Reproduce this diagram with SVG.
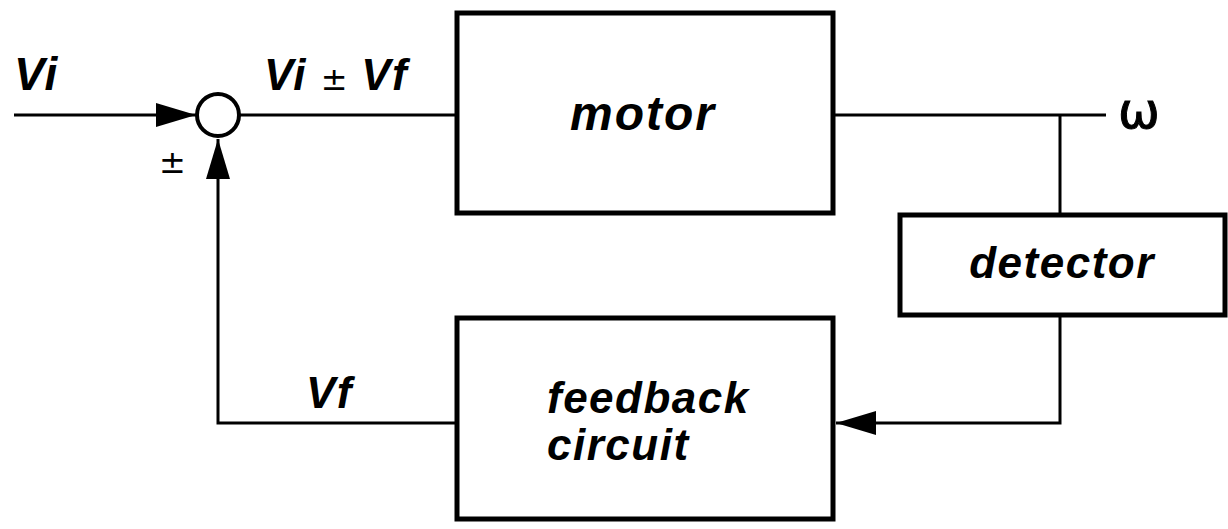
<svg xmlns="http://www.w3.org/2000/svg" width="1228" height="529" viewBox="0 0 1228 529">
<style>
.box{fill:#fff;stroke:#000;stroke-width:5}
.ln{fill:none;stroke:#000;stroke-width:3}
.t{font-family:"Liberation Sans",Arial,sans-serif;font-style:italic;font-weight:bold;font-size:44px;letter-spacing:1.5px;fill:#000}
.s{font-family:"DejaVu Sans",sans-serif;font-style:normal;font-weight:normal;font-size:32px;letter-spacing:0;fill:#000}
.w{font-family:"DejaVu Sans",sans-serif;font-style:normal;font-weight:normal;font-size:50px;fill:#000;stroke:#000;stroke-width:1}
</style>
<defs>
<marker id="ah" markerUnits="userSpaceOnUse" markerWidth="42" markerHeight="26" refX="40" refY="12" orient="auto" viewBox="0 0 42 26">
<path d="M0,0 L40,12 L0,24 z" fill="#000"/>
</marker>
</defs>
<rect width="1228" height="529" fill="#fff"/>
<g id="connectors">
<path class="ln" d="M14,115 H196" marker-end="url(#ah)"/>
<path class="ln" d="M240,115 H457"/>
<path class="ln" d="M833,115 H1106"/>
<path class="ln" d="M1060,115 V215"/>
<path class="ln" d="M1060,315 V423 H836" marker-end="url(#ah)"/>
<path class="ln" d="M457,423 H218 V139" marker-end="url(#ah)"/>
</g>
<g id="sum">
<circle cx="218" cy="115" r="21" fill="#fff" stroke="#000" stroke-width="4"/>
</g>
<g id="motor">
<rect class="box" x="457" y="13" width="376" height="200"/>
<text class="t" x="643" y="130" text-anchor="middle" style="font-size:48px;letter-spacing:2px">motor</text>
</g>
<g id="detector">
<rect class="box" x="900" y="215" width="325" height="100"/>
<text class="t" x="1062" y="278" text-anchor="middle">detector</text>
</g>
<g id="feedback">
<rect class="box" x="457" y="318" width="376" height="201"/>
<text class="t" x="547" y="413">feedback</text>
<text class="t" x="547" y="460">circuit</text>
</g>
<g id="labels">
<text class="t" x="14" y="90" style="font-size:46px">Vi</text>
<text class="t" x="264" y="90">Vi <tspan class="s">±</tspan> Vf</text>
<text class="s" x="159" y="173" style="font-size:32px">±</text>
<text class="t" x="306" y="408">Vf</text>
<text class="w" x="1118" y="128">ω</text>
</g>
</svg>
